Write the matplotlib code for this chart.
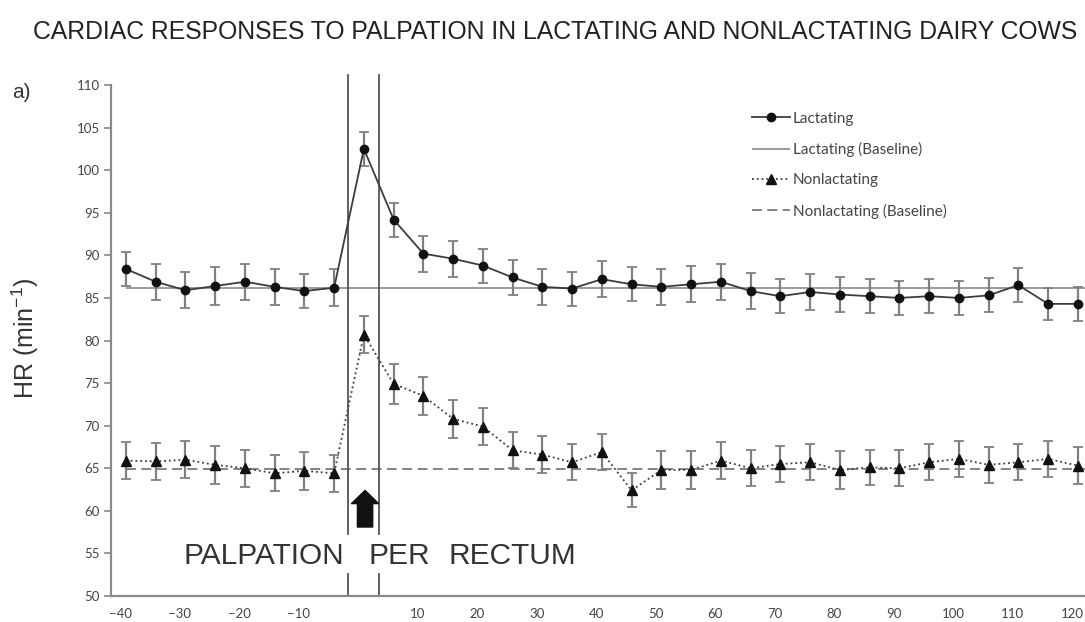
import matplotlib
matplotlib.use("Agg")
import matplotlib.pyplot as plt
import matplotlib.transforms as mtransforms

# time relative to palpation (min), 0 = palpation
minutes = [-40, -35, -30, -25, -20, -15, -10, -5, 0, 5, 10, 15, 20, 25, 30, 35, 40,
           45, 50, 55, 60, 65, 70, 75, 80, 85, 90, 95, 100, 105, 110, 115, 120]

hr_lact = [88.4, 86.9, 85.9, 86.4, 86.9, 86.3, 85.8, 86.2, 102.5, 94.2, 90.2, 89.6, 88.8,
           87.4, 86.3, 86.1, 87.2, 86.6, 86.3, 86.6, 86.9, 85.8, 85.2, 85.7, 85.4, 85.2,
           85.0, 85.2, 85.0, 85.3, 86.5, 84.3, 84.3]
err_lact = [2.0, 2.1, 2.1, 2.2, 2.1, 2.1, 2.0, 2.2, 2.0, 2.0, 2.1, 2.1, 2.0, 2.0, 2.1, 2.0,
            2.1, 2.0, 2.1, 2.1, 2.1, 2.1, 2.0, 2.1, 2.0, 2.0, 2.0, 2.0, 2.0, 2.0, 2.0, 1.9, 2.0]

hr_nonlact = [65.9, 65.8, 66.0, 65.4, 65.0, 64.4, 64.7, 64.4, 80.7, 74.9, 73.5, 70.8, 69.9,
              67.1, 66.6, 65.7, 66.9, 62.4, 64.8, 64.8, 65.9, 65.0, 65.5, 65.7, 64.8, 65.1,
              65.0, 65.7, 66.1, 65.4, 65.7, 66.1, 65.3]
err_nonlact = [2.2, 2.2, 2.2, 2.2, 2.2, 2.1, 2.2, 2.2, 2.2, 2.3, 2.2, 2.2, 2.2, 2.1, 2.2, 2.1,
               2.1, 2.0, 2.2, 2.2, 2.2, 2.1, 2.1, 2.1, 2.2, 2.1, 2.1, 2.1, 2.1, 2.1, 2.1, 2.1, 2.2]

baseline_lact = 86.2
baseline_nonlact = 64.9

xtick_vals = [-40, -30, -20, -10, 10, 20, 30, 40, 50, 60, 70, 80, 90, 100, 110, 120]
ytick_vals = [50, 55, 60, 65, 70, 75, 80, 85, 90, 95, 100, 105, 110]

# palpation window edges
palp_start, palp_end = -2.6, 2.6

plt.rcParams['font.family'] = ['Liberation Sans', 'DejaVu Sans']
plt.rcParams['mathtext.default'] = 'regular'

W, H = 1085, 622
fig = plt.figure(figsize=(W / 100, H / 100), dpi=100)
ax = fig.add_axes([111 / W, 26 / H, 1 - 111 / W, (596 - 85) / H])

# baselines
ax.hlines(baseline_lact, -40, 121.5, colors='#8a8a8a', linewidth=1.2)
ax.hlines(baseline_nonlact, -40, 121.5, colors='#7a7a7a', linewidth=1.3,
          linestyles=(0, (5.5, 3)))

# series with SE bars
eb_l = ax.errorbar(minutes, hr_lact, yerr=err_lact, color='#3c3c3c', linewidth=1.3,
                   marker='o', markersize=6, markerfacecolor='#111111', markeredgecolor='#111111',
                   ecolor='#808080', elinewidth=1.6, capsize=3.5, capthick=1.3, zorder=3)
eb_n = ax.errorbar(minutes, hr_nonlact, yerr=err_nonlact, color='#3c3c3c', linewidth=1.3,
                   linestyle=':', marker='^', markersize=6.5, markerfacecolor='#111111',
                   markeredgecolor='#111111', ecolor='#808080', elinewidth=1.6, capsize=3.5,
                   capthick=1.3, zorder=3)

# palpation window lines (break for the caption)
for xv in (palp_start, palp_end):
    ax.plot([xv, xv], [57.3, 111.2], color='#555555', linewidth=1.3, clip_on=False)
    ax.plot([xv, xv], [50, 52.6], color='#555555', linewidth=1.3, clip_on=False)

ax.annotate('', xy=(0.2, 62.4), xytext=(0.2, 58.1),
            arrowprops=dict(arrowstyle='simple,head_length=0.95,head_width=1.95,tail_width=1.1',
                            color='#111111', shrinkA=0, shrinkB=0, mutation_scale=10))

cap_kw = dict(fontsize=21.5, color='#333333', va='center', ha='left')
ax.text(-30.3, 54.7, 'PALPATION', **cap_kw)
ax.text(0.8, 54.7, 'PER', **cap_kw)
ax.text(14.2, 54.7, 'RECTUM', **cap_kw)

ax.set_xlim(-42.5, 121.2)
ax.set_ylim(50, 110)
ax.set_xticks(xtick_vals)
ax.set_yticks(ytick_vals)
ax.tick_params(axis='x', length=0, pad=8.5, labelsize=9.5, labelcolor='#444444')
ax.tick_params(axis='y', length=5, width=1.2, color='#888888', pad=3,
               labelsize=9.5, labelcolor='#444444')
shift = mtransforms.ScaledTranslation(-4 / 72, 0, fig.dpi_scale_trans)
for lab in ax.get_xticklabels():
    lab.set_transform(lab.get_transform() + shift)
for lab in ax.get_xticklabels() + ax.get_yticklabels():
    lab.set_family('Lato')

for s in ('top', 'right'):
    ax.spines[s].set_visible(False)
for s in ('left', 'bottom'):
    ax.spines[s].set_color('#8a8a8a')
    ax.spines[s].set_linewidth(1.6)

leg = ax.legend([eb_l[0], ax.collections[0], eb_n[0], ax.collections[1]],
                ['Lactating', 'Lactating (Baseline)', 'Nonlactating', 'Nonlactating (Baseline)'],
                loc='upper left', bbox_to_anchor=(744 / W, 1 - 104 / H),
                bbox_transform=fig.transFigure, frameon=False, numpoints=1,
                handlelength=2.5, handletextpad=0.2, labelspacing=1.07, borderpad=0,
                prop={'family': 'Lato', 'size': 11})
for t in leg.get_texts():
    t.set_color('#444444')

fig.text(555 / W, 1 - 32 / H,
         'CARDIAC RESPONSES TO PALPATION IN LACTATING AND NONLACTATING DAIRY COWS',
         ha='center', va='center', fontsize=17.8, color='#222222')
fig.text(12 / W, 1 - 93 / H, 'a)', ha='left', va='center', fontsize=15, color='#333333')
fig.text(25 / W, 1 - 338 / H, 'HR (min$^{-1}$)', rotation=90, ha='center', va='center',
         fontsize=18, color='#333333')

fig.savefig('out.png', dpi=100)
